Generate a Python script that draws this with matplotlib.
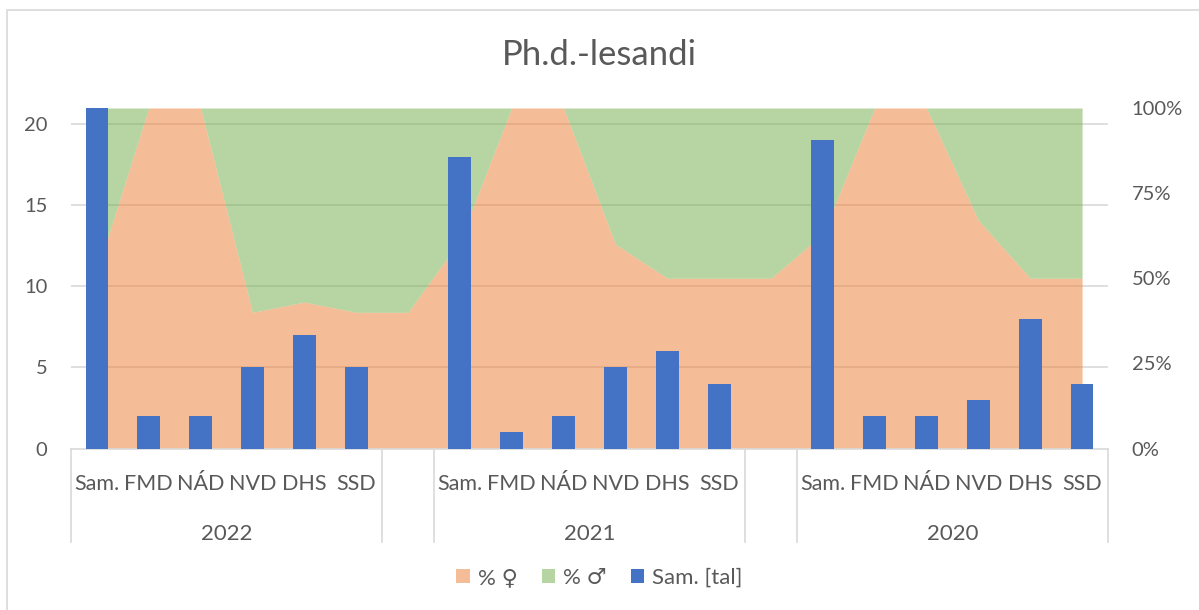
import numpy as np
import matplotlib.pyplot as plt
from matplotlib.patches import Patch, Rectangle

plt.rcParams['font.family'] = ['Lato', 'DejaVu Sans']
txt = '#595959'
grid_c = '#D9D9D9'

# categories: 6 units per year, with one empty slot between the years
units = ['Sam.', 'FMD', 'NÁD', 'NVD', 'DHS', 'SSD']
years = ['2022', '2021', '2020']
labels = units + [''] + units + [''] + units

# number of students (bars, left axis)
total = [21, 2, 2, 5, 7, 5, 0,
         18, 1, 2, 5, 6, 4, 0,
         19, 2, 2, 3, 8, 4]
# share of women in % (area, right axis)
female = [52, 100, 100, 40, 43, 40, 40,
          61, 100, 100, 60, 50, 50, 50,
          63, 100, 100, 67, 50, 50]
male = [100 - f for f in female]

x = np.arange(len(labels))
f = np.array(female) / 100
m = np.array(male) / 100

fig = plt.figure(figsize=(11.99, 6.10), dpi=100)
ax = fig.add_axes([71/1199, 1 - 448.5/610, (1108 - 71)/1199, 340.5/610])
ax2 = ax.twinx()

# area on ax (right axis), bars on ax2 (left axis)
ymax = 21
for v in [5, 10, 15, 20]:
    ax.axhline(v / ymax, color=grid_c, lw=1.2, zorder=0)
ax.fill_between(x, 0, f, color='#ED7D31', alpha=0.5, lw=0, zorder=1)
ax.fill_between(x, f, f + m, color='#70AD47', alpha=0.5, lw=0, zorder=1)
ax.set_ylim(0, 1)
ax.set_xlim(-0.5, len(labels) - 0.5)
ax.yaxis.tick_right()
ax.set_yticks([0, 0.25, 0.5, 0.75, 1.0])
ax.set_yticklabels(['0%', '25%', '50%', '75%', '100%'])

ax2.bar(x, total, width=0.44, color='#4472C4', lw=0, zorder=2)
ax2.set_ylim(0, ymax)
ax2.yaxis.tick_left()
ax2.set_yticks([0, 5, 10, 15, 20])

for a in (ax, ax2):
    a.tick_params(axis='y', length=0, labelsize=14.5, labelcolor=txt, pad=17)
    a.set_xticks([])
    for s in a.spines.values():
        s.set_visible(False)
ax.spines['bottom'].set_visible(True)
ax.spines['bottom'].set_color(grid_c)
ax.spines['bottom'].set_linewidth(1.2)

# multi-level category axis
tr = ax.get_xaxis_transform()
for i, lab in enumerate(labels):
    if lab:
        ax.text(i, -0.1219, lab, transform=tr, ha='center', va='baseline',
                fontsize=15.5, color=txt)
for k, yr in enumerate(years):
    ax.text(k * 7 + 2.5, -0.270, yr, transform=tr, ha='center', va='baseline',
            fontsize=16, color=txt)
for sx in [-0.5, 5.5, 6.5, 12.5, 13.5, 19.5]:
    ax.plot([sx, sx], [0, -0.275], transform=tr, color=grid_c, lw=1.2, clip_on=False)

fig.suptitle('Ph.d.-lesandi', x=0.5, y=1 - 55/610, va='center', fontsize=25, color=txt)

handles = [Patch(color='#ED7D31', alpha=0.5, lw=0),
           Patch(color='#70AD47', alpha=0.5, lw=0),
           Patch(color='#4472C4', lw=0)]
fig.legend(handles, ['% ♀', '% ♂', 'Sam. [tal]'], loc='center', bbox_to_anchor=(0.5, 1 - 578/610),
           ncol=3, frameon=False, fontsize=16, labelcolor=txt, handlelength=0.6, handleheight=0.6,
           handletextpad=0.35, columnspacing=1.1)

fig.patches.append(Rectangle((7/1199, -0.1), 1.2, 1 - 10/610 + 0.1, transform=fig.transFigure,
                             fill=False, ec=grid_c, lw=1.2))

fig.savefig('out.png', dpi=100)
